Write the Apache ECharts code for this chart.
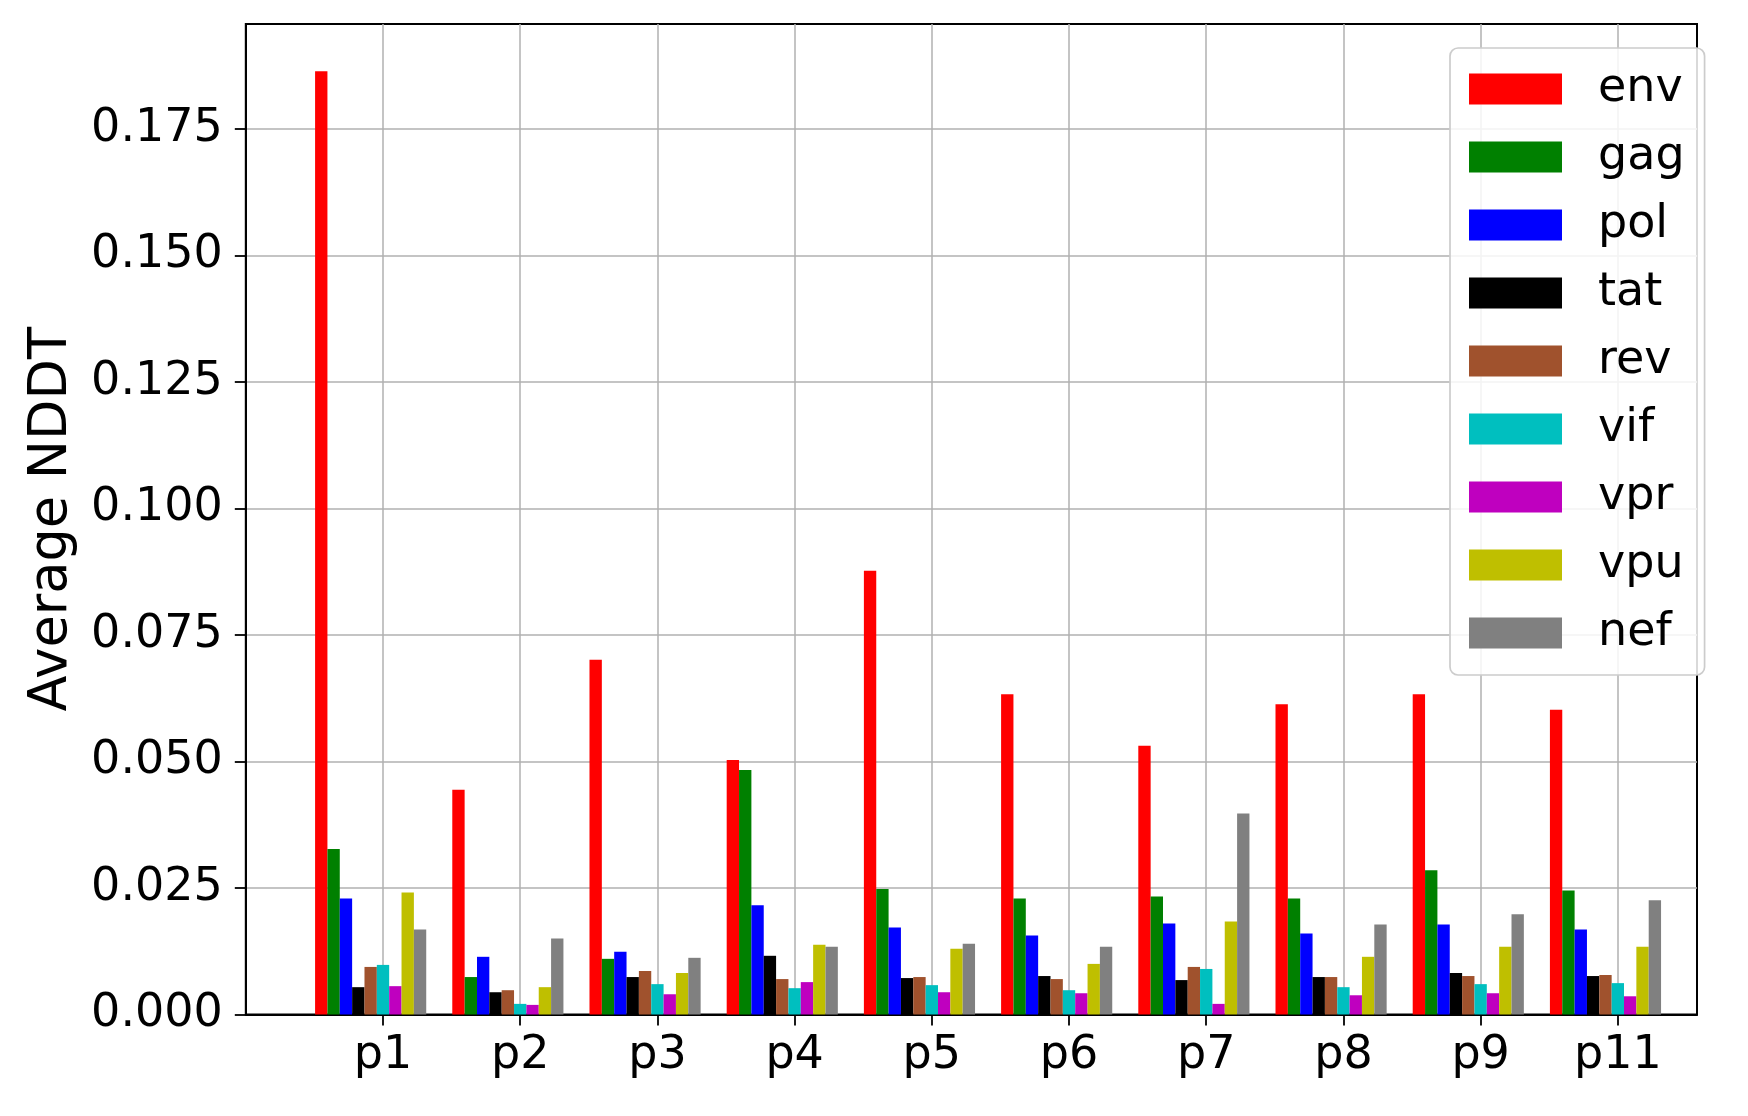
<!DOCTYPE html>
<html>
<head>
<meta charset="utf-8">
<script src="https://cdn.jsdelivr.net/npm/echarts@6/dist/echarts.min.js"></script>
<style>
html,body{margin:0;padding:0;background:#ffffff;}
#chart{width:1748px;height:1116px;}
</style>
</head>
<body>
<div id="chart"></div>
<script>
// ---- data ----
const categories = ['p1','p2','p3','p4','p5','p6','p7','p8','p9','p11'];
const seriesNames = ['env','gag','pol','tat','rev','vif','vpr','vpu','nef'];
const env = [0.1864, 0.0444, 0.0701, 0.0503, 0.0877, 0.0633, 0.0531, 0.0613, 0.0633, 0.0602];
const gag = [0.0327, 0.0074, 0.0110, 0.0483, 0.0248, 0.0229, 0.0233, 0.0229, 0.0285, 0.0245];
const pol = [0.0229, 0.0114, 0.0124, 0.0216, 0.0172, 0.0156, 0.0180, 0.0160, 0.0178, 0.0168];
const tat = [0.0054, 0.0044, 0.0074, 0.0116, 0.0072, 0.0076, 0.0068, 0.0074, 0.0082, 0.0076];
const rev = [0.0094, 0.0048, 0.0086, 0.0070, 0.0074, 0.0070, 0.0094, 0.0074, 0.0076, 0.0078];
const vif = [0.0098, 0.0021, 0.0060, 0.0052, 0.0058, 0.0048, 0.0090, 0.0054, 0.0060, 0.0062];
const vpr = [0.0056, 0.0019, 0.0040, 0.0064, 0.0044, 0.0042, 0.0021, 0.0038, 0.0042, 0.0036];
const vpu = [0.0241, 0.0054, 0.0082, 0.0138, 0.0130, 0.0100, 0.0184, 0.0114, 0.0134, 0.0134];
const nef = [0.0168, 0.0150, 0.0112, 0.0134, 0.0140, 0.0134, 0.0397, 0.0178, 0.0198, 0.0226];
const yTicks = [0, 0.025, 0.05, 0.075, 0.1, 0.125, 0.15, 0.175];
const xTickIndex = categories.map((c, i) => i);

// ---- styling ----
const seriesData = [env, gag, pol, tat, rev, vif, vpr, vpu, nef];
const colors = ['#ff0000','#008000','#0000ff','#000000','#a0522d','#00bfbf','#bf00bf','#bfbf00','#808080'];
const FONT = 'DejaVu Sans';
const yMax = Math.max(...env) * 1.05;
const groupOffset = 0.09;   // tick sits one bar-width right of group centre
const xMinTick = -1, xMaxTick = 9.577;

const chart = echarts.init(document.getElementById('chart'), null, {renderer: 'canvas'});
const option = {
  animation: false,
  backgroundColor: '#ffffff',
  grid: {
    left: 245.8, top: 24, right: 1748 - 1697, bottom: 1116 - 1014.5,
    show: true, borderColor: '#000000', borderWidth: 2, backgroundColor: 'transparent'
  },
  legend: {
    orient: 'vertical', left: 1450, top: 48,
    itemWidth: 93, itemHeight: 31, itemGap: 22,
    padding: [18, 20, 19, 19],
    backgroundColor: 'rgba(255,255,255,0.85)',
    borderColor: '#cccccc', borderWidth: 1.7, borderRadius: 8,
    icon: 'rect',
    textStyle: {fontFamily: FONT, fontSize: 46, color: '#000000', lineHeight: 44, padding: [0, 0, 0, 31]},
    data: seriesNames,
    z: 10
  },
  xAxis: [
    {
      type: 'value', show: false, position: 'bottom',
      min: xMinTick + groupOffset, max: xMaxTick + groupOffset,
      splitLine: {show: false}
    },
    {
      type: 'value', position: 'bottom',
      min: xMinTick, max: xMaxTick, interval: 1,
      axisLine: {show: true, onZero: false, lineStyle: {color: '#000000', width: 2}},
      axisTick: {show: true, inside: false, length: 11, lineStyle: {color: '#000000', width: 1.8}, customValues: xTickIndex},
      axisLabel: {
        customValues: xTickIndex,
        formatter: v => categories[Math.round(v)] || '',
        fontFamily: FONT, fontSize: 46, color: '#000000', margin: 19
      },
      splitLine: {show: true, lineStyle: {color: '#b0b0b0', width: 1.5}}
    }
  ],
  yAxis: {
    type: 'value', min: 0, max: yMax, interval: 0.025,
    name: 'Average NDDT', nameLocation: 'middle', nameGap: 167, nameRotate: 90,
    nameTextStyle: {fontFamily: FONT, fontSize: 52.5, color: '#000000'},
    axisLine: {show: true, onZero: false, lineStyle: {color: '#000000', width: 2}},
    axisTick: {show: true, inside: false, length: 11, lineStyle: {color: '#000000', width: 1.8}, customValues: yTicks},
    axisLabel: {
      customValues: yTicks,
      formatter: v => v.toFixed(3),
      fontFamily: FONT, fontSize: 46, color: '#000000', margin: 23
    },
    splitLine: {show: true, lineStyle: {color: '#b0b0b0', width: 1.5}}
  },
  series: seriesNames.map((name, k) => ({
    type: 'bar', name: name,
    xAxisIndex: 0, yAxisIndex: 0,
    barWidth: 12.35, barGap: '0%',
    itemStyle: {color: colors[k]},
    silent: true,
    data: seriesData[k].map((v, i) => [i, v])
  }))
};
chart.setOption(option);
</script>
</body>
</html>
